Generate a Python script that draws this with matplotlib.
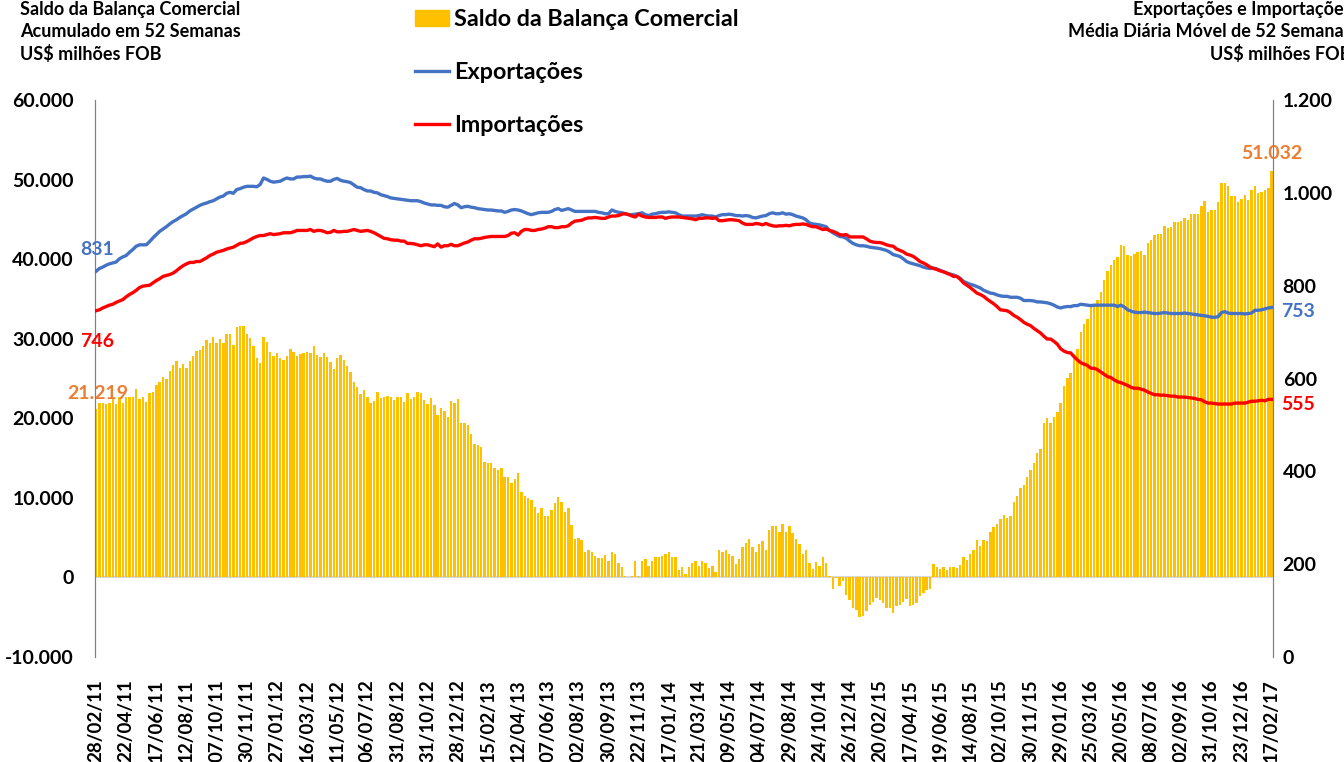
import matplotlib
matplotlib.use("Agg")
import numpy as np
import matplotlib.pyplot as plt
from matplotlib.patches import Patch
from matplotlib.lines import Line2D

plt.rcParams['font.family'] = ['Lato', 'DejaVu Sans']
plt.rcParams['font.weight'] = 'bold'

# saldo acumulado em 52 semanas (US$ milhoes FOB), one value per data point
saldo = [
    21219, 21870, 21960, 21750, 21960, 22500, 21750, 22710, 21960, 22620,
    22620, 22620, 23630, 22370, 22710, 22080, 23130, 23340, 24170, 24590,
    25130, 24880, 25930, 26640, 27180, 26260, 26850, 26350, 27180, 27810,
    28480, 28560, 29060, 29820, 29400, 30240, 29480, 29990, 29480, 30570,
    30570, 29190, 31410, 31660, 31660, 30650, 30150, 29060, 27520, 26890,
    30240, 29610, 28350, 27810, 28230, 27520, 27310, 27810, 28650, 28350,
    27810,
    28060, 28150, 28270, 28150, 29110, 27940, 27690, 28150, 27690, 27060,
    26140, 27520, 27940, 27310, 26560, 25850, 24510, 23960, 23040, 23500,
    22620, 21870, 22210, 23250, 22500, 22620, 22830, 22620, 22290, 22620,
    22710, 22080, 23130, 22370, 22710, 23250, 23130, 22290, 21750, 22500,
    21620, 20410, 21240, 20950, 20160, 22160, 21960, 22460, 19450, 19450,
    19110, 18020, 16770, 16690, 16350, 14550, 14430, 14340, 13720, 13510,
    13720,
    12670, 12590, 11840, 12420, 13090, 10750, 10250, 9950, 9740, 8910,
    8070, 8700, 7740, 7740, 8490, 9330, 10080, 9450, 8280, 8700,
    6570, 4810, 4930, 4680, 3140, 3470, 3140, 2720, 2430, 2380,
    2800, 2090, 3140, 2930, 1800, 1250, 210, 0, 210, 2010,
    210, 2090, 2300, 1460, 2090, 2510, 2510, 2720, 2930, 3140,
    2630, 2550, 960, 1250, 420, 1250, 1800, 2010, 1380, 2090,
    1800, 1130, 1380, 710, 3390, 3180, 3390, 2930, 2720, 1710,
    2340, 3810, 4310, 4890, 3810, 3180, 4220, 4520, 3470, 5980,
    6520, 6480, 5650, 6690, 5650, 6520, 5560, 4890, 4220, 2930,
    3470, 1800, 1090, 1880, 1380, 2550, 1800, 130, -1460, -130,
    -1130, -500, -2220, -2800, -3850, -4060, -4980, -4810, -4270, -3430,
    -3140, -2550, -2800, -3220, -3810, -3850,
    -4480, -3560, -3430, -3140, -2720, -3560, -3430, -3220, -2380, -1970,
    -1630, -1460, 1710, 1250, 1050, 1250, 920, 1340, 1250, 1130,
    1550, 2630, 2220, 2930, 3470, 4680, 3890, 4680, 4520, 5650,
    6400, 6730, 7360, 7900, 7530, 7740, 9530, 10250, 11210, 11630,
    12590, 13510, 14430, 15600, 16100, 19360, 19990, 19360, 20120, 20830,
    21960, 24090, 25090, 25680, 28060, 28690, 30860, 31910, 32540,
    34080, 34170, 34920, 35880, 37350, 38520, 39230, 39940, 40270, 41820,
    41610, 40480, 40360, 40690, 40900, 40980, 40570, 42030, 42450, 42990,
    43200, 43120, 44200, 43950, 44040, 44710, 44660, 44750, 45210, 44960,
    45630, 45710, 45710, 46670, 47260, 45920, 46130, 46210, 47170, 49560,
    49560, 49140, 47890, 47970, 47170, 47590, 48010, 47470, 48720, 49220,
    48300, 48430, 48640, 48970, 51032,
]

# media diaria movel de 52 semanas (US$ milhoes FOB)
exportacoes = [
    831, 837, 840, 844, 847, 849, 851, 858, 862, 865,
    872, 878, 885, 888, 888, 888, 895, 903, 910, 917,
    922, 927, 933, 938, 942, 947, 951, 955, 961, 965,
    969, 973, 976, 978, 981, 983, 987, 991, 993, 999,
    1001, 999, 1007, 1009, 1012, 1014, 1014, 1014, 1013, 1018,
    1032, 1029, 1025, 1023, 1024, 1025, 1029, 1032, 1030, 1030,
    1034,
    1034, 1035, 1035, 1036, 1032, 1030, 1030, 1027, 1025, 1025,
    1029, 1031, 1027, 1025, 1024, 1022, 1017, 1012, 1011, 1007,
    1004, 1004, 1001, 1000, 996, 994, 992, 989, 988, 987,
    986, 985, 984, 983, 983, 983, 981, 978, 976, 974,
    974, 973, 973, 970, 969, 973, 977, 974, 968, 970,
    971, 969, 968, 966, 965, 964, 963, 963, 962, 961,
    961,
    958, 960, 963, 964, 963, 961, 958, 955, 953, 955,
    957, 958, 958, 958, 960, 964, 966, 962, 964, 966,
    963, 960, 960, 960, 960, 960, 960, 960, 958, 957,
    955, 955, 963, 960, 958, 957, 955, 953, 953, 954,
    955, 957, 953, 951, 954, 955, 957, 958, 958, 959,
    958, 957, 953, 950, 950, 950, 950, 950, 951, 953,
    951, 950, 950, 948, 951, 953, 953, 954, 953, 951,
    951, 950, 951, 950, 947, 946, 948, 950, 951, 955,
    957, 955, 955, 957, 954, 955, 953, 950, 948, 946,
    942, 935, 933, 932, 931, 929, 927, 919, 914, 910,
    906, 905, 902, 896, 891, 888, 886, 886, 885, 883,
    882, 881, 880, 878, 876, 872,
    867, 865, 863, 858, 852, 849, 847, 845, 843, 840,
    838, 837, 838, 836, 833, 830, 827, 825, 823, 820,
    816, 809, 806, 803, 801, 798, 795, 790, 787, 784,
    783, 780, 778, 777, 777, 775, 775, 775, 773, 768,
    768, 768, 767, 765, 765, 764, 763, 761, 758, 754,
    752, 754, 755, 755, 757, 757, 760, 759, 758,
    757, 758, 758, 758, 758, 758, 758, 758, 755, 758,
    754, 748, 745, 743, 742, 742, 743, 742, 741, 740,
    740, 741, 742, 741, 740, 740, 740, 740, 741, 740,
    739, 738, 737, 736, 735, 734, 732, 732, 733, 742,
    744, 741, 740, 740, 740, 740, 739, 740, 741, 747,
    747, 748, 750, 752, 753,
]

importacoes = [
    746, 748, 752, 755, 758, 760, 764, 767, 770, 776,
    781, 785, 790, 796, 799, 800, 801, 806, 811, 815,
    820, 822, 824, 827, 832, 838, 843, 847, 850, 850,
    852, 852, 856, 860, 865, 868, 872, 874, 876, 879,
    881, 883, 887, 891, 892, 895, 899, 903, 906, 908,
    908, 910, 912, 910, 911, 912, 914, 914, 914, 916,
    919,
    919, 919, 919, 921, 917, 919, 919, 917, 914, 915,
    919, 916, 916, 917, 917, 919, 921, 919, 917, 918,
    919, 917, 914, 910, 906, 902, 901, 899, 898, 898,
    896, 896, 891, 891, 890, 888, 886, 888, 888, 886,
    884, 890, 883, 886, 886, 889, 886, 886, 889, 892,
    894, 898, 901, 901, 902, 904, 905, 906, 906, 906,
    906,
    906, 908, 913, 914, 909, 917, 921, 921, 919, 919,
    921, 922, 924, 927, 927, 925, 925, 927, 927, 929,
    935, 939, 940, 941, 944, 946, 946, 947, 946, 945,
    945, 948, 950, 950, 951, 954, 955, 953, 950, 948,
    954, 950, 948, 947, 947, 947, 948, 948, 945, 947,
    948, 948, 948, 947, 946, 945, 944, 942, 945, 945,
    946, 946, 945, 946, 940, 940, 941, 942, 942, 941,
    940, 935, 932, 932, 932, 934, 933, 931, 934, 931,
    929, 928, 929, 929, 930, 929, 931, 932, 932, 933,
    932, 929, 927, 927, 924, 921, 922, 919, 917, 914,
    910, 909, 910, 905, 905, 905, 905, 905, 901, 896,
    894, 893, 893, 891, 888, 886,
    885, 879, 876, 873, 868, 866, 863, 858, 852, 849,
    845, 840, 837, 835, 832, 830, 827, 824, 820, 820,
    814, 806, 801, 796, 790, 784, 781, 777, 771, 766,
    761, 755, 748, 747, 746, 742, 736, 732, 727, 721,
    717, 714, 708, 703, 698, 691, 685, 685, 680, 674,
    664, 659, 656, 655, 647, 640, 634, 631, 628,
    622, 622, 619, 614, 609, 604, 602, 597, 593, 591,
    588, 585, 581, 579, 579, 577, 575, 571, 568, 565,
    565, 564, 564, 563, 562, 562, 560, 560, 560, 559,
    558, 557, 555, 554, 550, 547, 547, 546, 545, 545,
    545, 545, 545, 547, 547, 547, 547, 549, 551, 551,
    552, 553, 552, 555, 555,
]

# every 9th point carries a date label
datas = [
    "28/02/11", "22/04/11", "17/06/11", "12/08/11", "07/10/11", "30/11/11",
    "27/01/12", "16/03/12", "11/05/12", "06/07/12", "31/08/12", "31/10/12",
    "28/12/12", "15/02/13", "12/04/13", "07/06/13", "02/08/13", "30/09/13",
    "22/11/13", "17/01/14", "21/03/14", "09/05/14", "04/07/14", "29/08/14",
    "24/10/14", "26/12/14", "20/02/15", "17/04/15", "19/06/15", "14/08/15",
    "02/10/15", "30/11/15", "29/01/16", "25/03/16", "20/05/16", "08/07/16",
    "02/09/16", "31/10/16", "23/12/16", "17/02/17",
]

GOLD = "#FFC000"
BLUE = "#4472C4"
RED = "#FF0000"
ORANGE = "#ED7D31"


def fmt(v):
    return f"{v:,.0f}".replace(",", ".")


n = len(saldo)
x = np.arange(n)

fig = plt.figure(figsize=(13.44, 7.62), dpi=100)
ax = fig.add_axes([94.7 / 1344, 1 - 657 / 762, (1273 - 94.7) / 1344, 557 / 762])
ax2 = ax.twinx()

ax.bar(x, saldo, width=0.72, color=GOLD, zorder=2)
ax.axhline(0, color="#D9D9D9", lw=1.5, zorder=1)
ax.set_xlim(-0.4, n - 0.6)
ax.set_ylim(-10000, 60000)
ax.set_yticks(np.arange(-10000, 60001, 10000))
ax.set_yticklabels([fmt(v) for v in np.arange(-10000, 60001, 10000)])

ax2.plot(x, exportacoes, color=BLUE, lw=2.4, zorder=3)
ax2.plot(x, importacoes, color=RED, lw=2.4, zorder=3)
ax2.set_ylim(0, 1200)
ax2.set_yticks(np.arange(0, 1201, 200))
ax2.set_yticklabels([fmt(v) for v in np.arange(0, 1201, 200)])

ax.set_xticks(x[::9])
ax.set_xticklabels(datas, rotation=90, va="top", ha="center")

for a in (ax, ax2):
    for s in ("top", "bottom"):
        a.spines[s].set_visible(False)
    a.spines["left"].set_color("#808080")
    a.spines["right"].set_color("#808080")
ax.tick_params(axis="y", length=0, pad=15, labelsize=14)
ax2.tick_params(axis="y", length=0, pad=7, labelsize=14)
ax.tick_params(axis="x", length=0, pad=16, labelsize=13.5)

# data labels
kw = dict(fontsize=14, fontweight="bold", textcoords="offset points")
ax2.annotate(fmt(exportacoes[0]), (0, exportacoes[0]), xytext=(1, 16),
             ha="center", va="center", color=BLUE, **kw)
ax2.annotate(fmt(importacoes[0]), (0, importacoes[0]), xytext=(1, -22),
             ha="center", va="center", color=RED, **kw)
ax2.annotate(fmt(exportacoes[-1]), (n - 1, exportacoes[-1]), xytext=(7, -3),
             ha="left", va="center", color=BLUE, **kw)
ax2.annotate(fmt(importacoes[-1]), (n - 1, importacoes[-1]), xytext=(7, -4),
             ha="left", va="center", color=RED, **kw)
ax.annotate(fmt(saldo[0]), (0, saldo[0]), xytext=(1, 11),
            ha="center", va="center", color=ORANGE, zorder=5, **kw)
ax.annotate(fmt(saldo[-1]), (n - 1, saldo[-1]), xytext=(0, 13),
            ha="center", va="center", color=ORANGE, zorder=5, **kw)

# legend
handles = [Patch(color=GOLD), Line2D([], [], color=BLUE, lw=2.4),
           Line2D([], [], color=RED, lw=2.4)]
fig.legend(handles, ["Saldo da Balança Comercial", "Exportações", "Importações"],
           loc="upper left", bbox_to_anchor=(415 / 1344, 1 - 9 / 762),
           frameon=False, fontsize=16.8, handlelength=1.45, handletextpad=0.22,
           labelspacing=1.37, borderpad=0, borderaxespad=0)

fig.text(20 / 1344, 1 - 1 / 762, "Saldo da Balança Comercial\nAcumulado em 52 Semanas\nUS$ milhões FOB",
         ha="left", va="top", fontsize=13, fontweight="bold", linespacing=1.33)
fig.text(1352 / 1344, 1 - 1 / 762, "Exportações e Importações\nMédia Diária Móvel de 52 Semanas\nUS$ milhões FOB",
         ha="right", va="top", fontsize=13, fontweight="bold", linespacing=1.33,
         multialignment="right")

fig.savefig("out.png", dpi=100)
